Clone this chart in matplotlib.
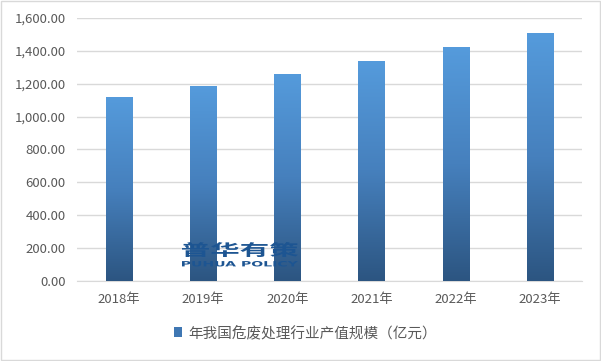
import matplotlib
matplotlib.use('Agg')
import numpy as np
import matplotlib.pyplot as plt
from matplotlib.colors import LinearSegmentedColormap
from matplotlib.patches import Rectangle, Patch, PathPatch
from matplotlib.textpath import TextPath
from matplotlib.font_manager import FontProperties
from matplotlib.transforms import Affine2D, IdentityTransform

plt.rcParams['font.family'] = ['Noto Sans CJK SC', 'DejaVu Sans']

years = ['2018年', '2019年', '2020年', '2021年', '2022年', '2023年']
values = [1122, 1189, 1262, 1341, 1421, 1506]
series_name = '年我国危废处理行业产值规模（亿元）'

W, H = 601, 361
fig = plt.figure(figsize=(6.01, 3.61), dpi=100)
ax = fig.add_axes([0.128, 0.222, 0.840, 0.728])

x = np.arange(len(years))
bars = ax.bar(x, values, width=0.31, color='none', zorder=3)

cmap = LinearSegmentedColormap.from_list('g', ['#2c5581', '#4680bd', '#559bdc'])
grad = np.linspace(0, 1, 256).reshape(-1, 1)
for b in bars:
    x0, w, h = b.get_x(), b.get_width(), b.get_height()
    im = ax.imshow(grad, cmap=cmap, origin='lower', aspect='auto',
                   extent=[x0, x0 + w, 0, h], zorder=3)
    im.set_clip_path(b)

ax.set_xlim(-0.5, len(years) - 0.5)
ax.set_ylim(0, 1600)
ax.set_yticks(np.arange(0, 1601, 200))
ax.set_yticklabels([f'{v:,.2f}' for v in np.arange(0, 1601, 200)])
ax.set_xticks(x)
ax.set_xticklabels(years)
ax.yaxis.grid(True, color='#d9d9d9', linewidth=1)
ax.set_axisbelow(True)
for s in ['top', 'right', 'left']:
    ax.spines[s].set_visible(False)
ax.spines['bottom'].set_color('#d9d9d9')
ax.tick_params(axis='both', length=0, labelsize=9.5, colors='#595959')
ax.tick_params(axis='x', pad=9)
ax.tick_params(axis='y', pad=8)


# watermark, stretched into pixel boxes (x0, x1, y_top, y_bottom from top-left)
def stamp(text, box, family):
    tp = TextPath((0, 0), text, size=20, prop=FontProperties(family=family, weight='bold'))
    ext = tp.get_extents()
    bx0, bx1, by0, by1 = box
    sx = (bx1 - bx0) / ext.width
    sy = (by1 - by0) / ext.height
    tr = Affine2D().translate(-ext.x0, -ext.y0).scale(sx, sy).translate(bx0, H - by1)
    fig.patches.append(PathPatch(tr.transform_path(tp), transform=IdentityTransform(),
                                 facecolor='#1d5592', edgecolor='none', zorder=10))


stamp('普华有策', (182, 298, 242, 257), 'Noto Sans CJK SC')
stamp('PUHUA POLICY', (182, 298, 261, 266.5), 'DejaVu Sans')

leg = fig.legend(handles=[Patch(facecolor='#3f77b3')], labels=[series_name],
                 loc='center', bbox_to_anchor=(0.508, 0.078), frameon=False,
                 fontsize=10.5, handlelength=0.6, handleheight=0.6, handletextpad=0.4)
for t in leg.get_texts():
    t.set_color('#595959')

fig.patches.append(Rectangle((0.001, 0.002), 0.997, 0.995, transform=fig.transFigure,
                             fill=False, edgecolor='#d9d9d9', linewidth=1))

plt.savefig('out.png', dpi=100)
plt.close()
